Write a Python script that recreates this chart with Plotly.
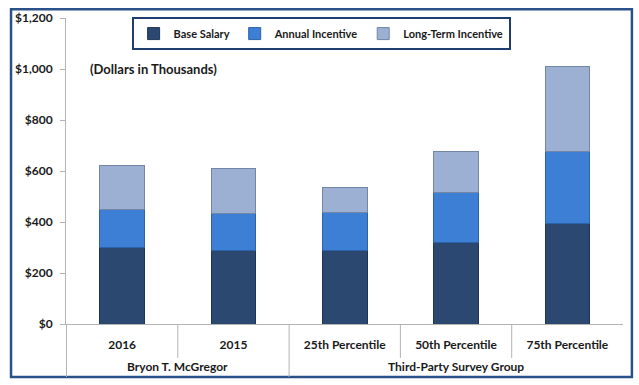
import plotly.graph_objects as go

groups = ["Bryon T. McGregor", "Bryon T. McGregor", "Third-Party Survey Group",
          "Third-Party Survey Group", "Third-Party Survey Group"]
categories = ["2016", "2015", "25th Percentile", "50th Percentile", "75th Percentile"]
base_salary = [300, 290, 290, 320, 395]
annual_incentive = [150, 145, 147, 197, 280]
long_term_incentive = [172, 175, 99, 158, 335]

series_names = ["Base Salary", "Annual Incentive", "Long-Term Incentive"]
colors = ["#2B4870", "#3D7FD5", "#9CB0D3"]
line_colors = ["#1E3656", "#2C62A8", "#7486A6"]

FONT = "Lato"
AX = "#B4B4B4"
fig = go.Figure()
for name, vals, c, lc in zip(series_names, [base_salary, annual_incentive, long_term_incentive], colors, line_colors):
    fig.add_trace(go.Bar(
        x=categories, y=vals, name=name,
        marker=dict(color=c, line=dict(color=lc, width=1)),
        width=0.4,
    ))

# group labels and category dividers (derived from the group list)
annotations = [dict(
    text="(Dollars in Thousands)", xref="paper", yref="y", x=0.04, y=1000,
    xanchor="left", yanchor="middle", showarrow=False,
    font=dict(size=13, family=FONT, weight="bold", color="#1a1a1a"),
)]
unique_groups = list(dict.fromkeys(groups))
for g in unique_groups:
    idx = [i for i, gg in enumerate(groups) if gg == g]
    annotations.append(dict(
        text=g, xref="x", yref="paper", x=sum(idx) / len(idx), y=-0.1405,
        xanchor="center", yanchor="middle", showarrow=False,
        font=dict(size=12, family=FONT, weight="bold", color="#1a1a1a"),
    ))

shapes = [dict(
    type="rect", xref="paper", yref="paper",
    x0=-0.0987, x1=1.016, y0=-0.173, y1=1.029,
    line=dict(color="#2A5189", width=2.5), fillcolor="rgba(0,0,0,0)", layer="below",
)]
for i in range(len(categories)):
    long_line = i == 0 or groups[i] != groups[i - 1]
    shapes.append(dict(
        type="line", xref="x", yref="paper", x0=i - 0.5, x1=i - 0.5,
        y0=0, y1=-0.173 if long_line else -0.111,
        line=dict(color=AX, width=1),
    ))

fig.update_layout(
    width=639, height=385,
    barmode="stack",
    paper_bgcolor="white", plot_bgcolor="white",
    margin=dict(l=66, r=16, t=18, b=61, autoexpand=False),
    font=dict(family=FONT, size=12, color="#1a1a1a", weight="bold"),
    showlegend=True,
    legend=dict(
        orientation="h", x=0.458, xanchor="center", y=1.003, yanchor="top",
        bordercolor="#1F3E6E", borderwidth=2, bgcolor="white",
        font=dict(size=11, family=FONT, weight="bold"),
        itemwidth=30, traceorder="normal",
    ),
    annotations=annotations,
    shapes=shapes,
)

fig.update_xaxes(
    type="category", automargin=False,
    showline=True, linecolor=AX, linewidth=1,
    ticks="", ticklabelstandoff=10,
    tickfont=dict(size=12, family=FONT, weight="bold", color="#1a1a1a"),
    showgrid=False,
)
fig.update_yaxes(
    automargin=False,
    range=[0, 1200], dtick=200, tickprefix="$", tickformat=",",
    showline=True, linecolor=AX, linewidth=1,
    ticks="outside", ticklen=5, tickcolor=AX, ticklabelstandoff=5,
    showgrid=False, zeroline=False,
    tickfont=dict(size=12, family=FONT, weight="bold", color="#1a1a1a"),
)

fig.write_html("out.html", config={"displayModeBar": False},
               post_script="document.body.style.margin='0';")
